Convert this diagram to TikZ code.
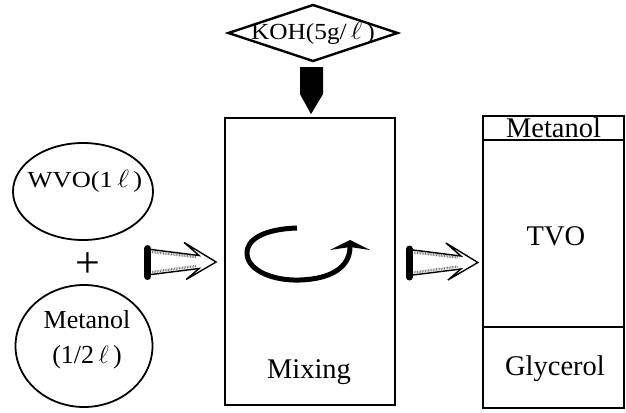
\documentclass[tikz,border=0pt]{standalone}
\usepackage{fontspec}
\setmainfont{Liberation Serif}
\usetikzlibrary{arrows.meta,shapes.geometric,calc}
\tikzset{
  boxline/.style={draw, line width=1.8pt, inner sep=0pt},
  bigtxt/.style={font=\fontsize{28.5}{30}\selectfont, inner sep=0pt},
  midtxt/.style={font=\fontsize{26}{27}\selectfont, inner sep=0pt},
  smalltxt/.style={font=\fontsize{23}{25}\selectfont, inner sep=0pt},
  hollowarrow/.pic={
    \draw[line width=7pt, line cap=round] (3.5,-13) -- (3.5,15);
    \draw[gray, line width=2.4pt, dash pattern=on 0.8pt off 0.8pt] (8,-9.5) -- (52,-4.5);
    \draw[gray, line width=2.4pt, dash pattern=on 0.8pt off 0.8pt] (8,10.5) -- (52,4.5);
    \draw[line width=1.4pt, line join=miter] (7,-12) -- (55,-6) -- (40,-19) -- (72,0.5) -- (42,18) -- (55,7) -- (7,13);
  }
}
\begin{document}
\begin{tikzpicture}[x=1pt,y=-1pt]
\useasboundingbox (0,0) rectangle (626,412);
% KOH diamond
\node[diamond, draw, line width=2.4pt, shape aspect=3, inner sep=0pt,
      minimum width=170, minimum height=57, smalltxt] (koh) at (313,33)
      {\makebox[70pt]{\scalebox{1.1}[1]{KOH(5g/\,$\ell$\,)}}};
% mixing box
\node[boxline, minimum width=170, minimum height=287] (mix) at (310,261.5) {};
\node[bigtxt] (mixlbl) at (309,372) {Mixing};
% black feed arrow
\fill ($(mix.north)+(-10,-50)$) -- ($(mix.north)+(13,-50)$) -- ($(mix.north)+(13,-23)$)
      -- ($(mix.north)+(1,-3)$) -- ($(mix.north)+(-10,-23)$) -- cycle;
% rotation arrow
\draw[line width=5pt, -{Stealth[length=10pt, width=40pt, inset=3pt]}]
  (297,228) .. controls (265,229) and (246,239) .. (247,254)
  .. controls (248,271) and (274,281) .. (300,280)
  .. controls (330,279) and (350,268) .. (350,240);
% left ellipses
\node[ellipse, draw, line width=1.8pt, minimum width=140, minimum height=97] (wvo) at (83,191.5) {};
\node[smalltxt] (wvotxt) at (85,181) {\scalebox{1.15}[1]{WVO(1\,$\ell$\,)}};
\node[font=\fontsize{44}{44}\selectfont, inner sep=0pt] (plus) at (88,265) {+};
\node[ellipse, draw, line width=1.8pt, minimum width=137, minimum height=122] (met) at (84,346) {};
\node[midtxt] (mettxt) at (87,320) {Metanol};
\node[midtxt] (mettxt2) at (87,357) {(1/2\,$\ell$\,)};
% right tank
\node[boxline, minimum width=141, minimum height=24, text height=19pt, text depth=0pt, bigtxt] (tmet) at (553.5,128) {Metanol};
\node[boxline, minimum width=141, minimum height=187] (ttvo) at (553.5,233.5) {};
\node[bigtxt] (tvotxt) at (556,236) {TVO};
\node[boxline, minimum width=141, minimum height=81] (tgly) at (553.5,367.5) {};
\node[bigtxt] (glytxt) at (555,369) {Glycerol};
% hollow arrows
\pic at ($(mix.west)+(-80,0)$) {hollowarrow};
\pic at ($(mix.east)+(10,0.5)$) {hollowarrow};
\end{tikzpicture}
\end{document}
